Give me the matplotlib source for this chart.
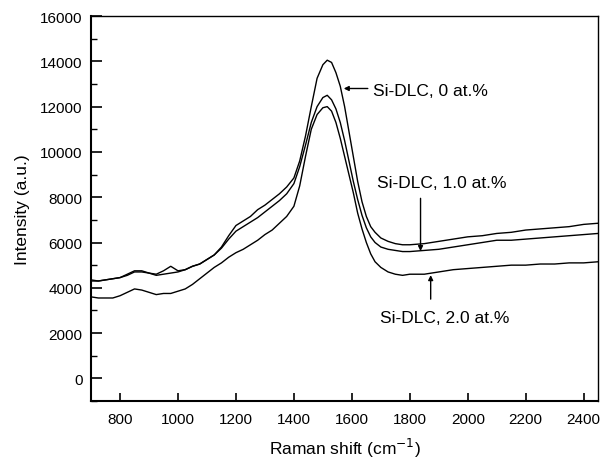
import numpy as np
import matplotlib.pyplot as plt
from matplotlib.ticker import MultipleLocator

# Raman shift grid (cm^-1), denser around the G peak
shift = [700, 725, 750, 775, 800, 825, 850, 875, 900, 925, 950, 975, 1000,
         1025, 1050, 1075, 1100, 1125, 1150, 1175, 1200, 1225, 1250, 1275,
         1300, 1325, 1350, 1375, 1400, 1420, 1440, 1460, 1480, 1500, 1515,
         1530, 1545, 1560, 1575, 1590, 1605, 1620, 1635, 1650, 1665, 1680,
         1700, 1725, 1750, 1775, 1800, 1850, 1900, 1950, 2000, 2050, 2100,
         2150, 2200, 2250, 2300, 2350, 2400, 2450]

si_0 = [4350, 4300, 4350, 4400, 4450, 4600, 4750, 4750, 4650, 4600, 4750, 4950, 4750,
        4800, 4950, 5050, 5250, 5450, 5800, 6300, 6750, 6950, 7150, 7450,
        7650, 7900, 8150, 8450, 8850, 9600, 10700, 12000, 13250, 13850, 14050,
        13950, 13500, 12900, 12000, 10900, 9800, 8700, 7800, 7150, 6700, 6450,
        6200, 6050, 5950, 5900, 5900, 5950, 6050, 6150, 6250, 6300, 6400,
        6450, 6550, 6600, 6650, 6700, 6800, 6850]

si_1 = [4300, 4300, 4350, 4400, 4450, 4550, 4700, 4700, 4650, 4550, 4600, 4650, 4700,
        4800, 4950, 5050, 5250, 5450, 5750, 6150, 6500, 6700, 6900, 7100,
        7350, 7600, 7850, 8150, 8600, 9350, 10300, 11300, 12000, 12400, 12500,
        12300, 11900, 11300, 10500, 9600, 8700, 7900, 7200, 6650, 6250, 6000,
        5800, 5700, 5650, 5600, 5600, 5650, 5700, 5800, 5900, 6000, 6100,
        6100, 6150, 6200, 6250, 6300, 6350, 6400]

si_2 = [3600, 3550, 3550, 3550, 3650, 3800, 3950, 3900, 3800, 3700, 3750, 3750, 3850,
        3950, 4150, 4400, 4650, 4900, 5100, 5350, 5550, 5700, 5900, 6100,
        6350, 6550, 6850, 7150, 7600, 8500, 9800, 11000, 11650, 11950, 12000,
        11800, 11300, 10600, 9800, 9000, 8200, 7300, 6600, 6000, 5500, 5150,
        4900, 4700, 4600, 4550, 4600, 4600, 4700, 4800, 4850, 4900, 4950,
        5000, 5000, 5050, 5050, 5100, 5100, 5150]

plt.rcParams['font.family'] = ['Liberation Sans', 'DejaVu Sans']

fig = plt.figure(figsize=(6.03, 4.60), dpi=100)
ax = fig.add_axes([0.151, 0.126, 0.841, 0.837])

for y in (si_0, si_1, si_2):
    ax.plot(shift, y, color='black', lw=1.0)

ax.set_xlim(700, 2450)
ax.set_ylim(-1000, 16000)
ax.xaxis.set_major_locator(MultipleLocator(200))
ax.yaxis.set_major_locator(MultipleLocator(2000))
ax.yaxis.set_minor_locator(MultipleLocator(1000))
ax.tick_params(axis='both', which='major', direction='in', labelsize=11,
               top=False, right=False)
ax.tick_params(axis='x', which='major', length=6, width=1.2, pad=8)
ax.tick_params(axis='y', which='major', length=8, width=1.2, pad=6)
ax.tick_params(axis='y', which='minor', direction='in', length=4, width=1.0)
ax.spines['left'].set_linewidth(1.5)
ax.spines['bottom'].set_linewidth(1.5)
ax.spines['top'].set_linewidth(1.0)
ax.spines['right'].set_linewidth(1.0)

ax.set_xlabel('Raman shift (cm$^{-1}$)', fontsize=12.5, labelpad=7)
ax.set_ylabel('Intensity (a.u.)', fontsize=12.5, labelpad=7)

arrow = dict(arrowstyle='-|>', color='black', lw=1.0, mutation_scale=7,
             shrinkA=0, shrinkB=0)
ax.annotate('', xy=(1572, 12800), xytext=(1655, 12800), arrowprops=arrow)
ax.text(1672, 12700, 'Si-DLC, 0 at.%', fontsize=12.5, va='center')

ax.annotate('', xy=(1837, 5620), xytext=(1837, 7950), arrowprops=arrow)
ax.text(1686, 8670, 'Si-DLC, 1.0 at.%', fontsize=12.5, va='center')

ax.annotate('', xy=(1872, 4560), xytext=(1872, 3500), arrowprops=arrow)
ax.text(1697, 2700, 'Si-DLC, 2.0 at.%', fontsize=12.5, va='center')

fig.savefig('out.png', dpi=100)
